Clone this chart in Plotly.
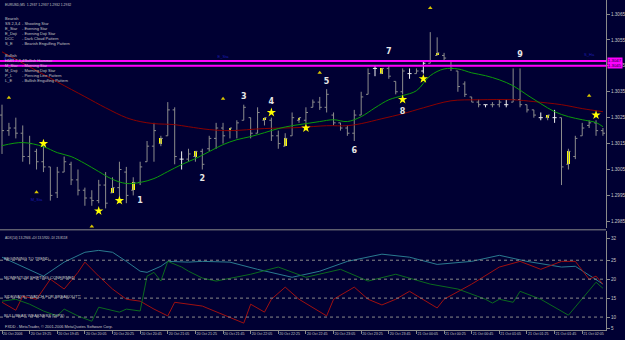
import plotly.graph_objects as go

# ---------------- data ----------------
time_labels = ["20 Oct 2006", "20 Oct 19:25", "20 Oct 19:45", "20 Oct 20:05", "20 Oct 20:25",
               "20 Oct 20:45", "20 Oct 21:05", "20 Oct 21:25", "20 Oct 21:45", "20 Oct 22:05",
               "20 Oct 22:25", "20 Oct 22:45", "20 Oct 23:05", "20 Oct 23:25", "20 Oct 23:45",
               "21 Oct 00:05", "21 Oct 00:25", "21 Oct 00:45", "21 Oct 01:05", "21 Oct 01:25",
               "21 Oct 01:45", "21 Oct 02:05"]
time_label_bars = [0, 4, 8, 12, 16, 20, 24, 28, 32, 36, 40, 44, 48, 52, 56, 60, 64, 68, 72, 76, 80, 84]

opens = [1.3026, 1.3020, 1.3021, 1.3019, 1.3010, 1.3012, 1.3008, 1.3006, 1.2996, 1.3004,
         1.3007, 1.3001, 1.2997, 1.2994, 1.2993, 1.2999, 1.2996, 1.2998, 1.3004, 1.2997,
         1.3000, 1.3008, 1.3014, 1.3015, 1.3018, 1.3028, 1.3009, 1.3009, 1.3010, 1.3012,
         1.3013, 1.3017, 1.3021, 1.3020, 1.3020, 1.3024, 1.3025, 1.3019, 1.3024, 1.3024,
         1.3018, 1.3014, 1.3018, 1.3024, 1.3024, 1.3029, 1.3031, 1.3029, 1.3026, 1.3023,
         1.3021, 1.3019, 1.3026, 1.3034, 1.3044, 1.3042, 1.3044, 1.3039, 1.3035, 1.3042,
         1.3042, 1.3043, 1.3046, 1.3049, 1.3049, 1.3047, 1.3043, 1.3038, 1.3033, 1.3031,
         1.3030, 1.3030, 1.3030, 1.3030, 1.3031, 1.3032, 1.3030, 1.3028, 1.3025, 1.3025,
         1.3025, 1.3025, 1.3007, 1.3010, 1.3018, 1.3022, 1.3023, 1.3020]
highs = [1.3030, 1.3023, 1.3025, 1.3022, 1.3018, 1.3013, 1.3014, 1.3006, 1.3006, 1.3010,
         1.3008, 1.3005, 1.2998, 1.2997, 1.3001, 1.3004, 1.3002, 1.3008, 1.3006, 1.3002,
         1.3008, 1.3016, 1.3023, 1.3018, 1.3031, 1.3029, 1.3012, 1.3013, 1.3012, 1.3013,
         1.3018, 1.3023, 1.3023, 1.3021, 1.3024, 1.3030, 1.3025, 1.3029, 1.3025, 1.3025,
         1.3020, 1.3019, 1.3027, 1.3025, 1.3029, 1.3032, 1.3033, 1.3036, 1.3027, 1.3023,
         1.3022, 1.3028, 1.3035, 1.3044, 1.3045, 1.3044, 1.3045, 1.3039, 1.3044, 1.3044,
         1.3044, 1.3047, 1.3058, 1.3056, 1.3050, 1.3047, 1.3043, 1.3039, 1.3033, 1.3032,
         1.3030, 1.3031, 1.3032, 1.3032, 1.3044, 1.3044, 1.3030, 1.3028, 1.3027, 1.3026,
         1.3028, 1.3025, 1.3013, 1.3018, 1.3023, 1.3024, 1.3024, 1.3021]
lows = [1.3011, 1.3018, 1.3017, 1.3008, 1.3007, 1.3005, 1.3004, 1.2993, 1.2994, 1.3004,
        1.2999, 1.2995, 1.2991, 1.2991, 1.2992, 1.2990, 1.2996, 1.2992, 1.2992, 1.2995,
        1.2999, 1.3008, 1.3008, 1.3014, 1.3018, 1.3007, 1.3005, 1.3008, 1.3008, 1.3005,
        1.3012, 1.3013, 1.3015, 1.3017, 1.3017, 1.3024, 1.3017, 1.3019, 1.3022, 1.3016,
        1.3013, 1.3014, 1.3018, 1.3023, 1.3023, 1.3029, 1.3028, 1.3027, 1.3022, 1.3020,
        1.3018, 1.3016, 1.3026, 1.3034, 1.3041, 1.3042, 1.3040, 1.3034, 1.3034, 1.3040,
        1.3042, 1.3042, 1.3046, 1.3049, 1.3047, 1.3043, 1.3035, 1.3033, 1.3031, 1.3029,
        1.3029, 1.3029, 1.3029, 1.3029, 1.3031, 1.3029, 1.3027, 1.3025, 1.3024, 1.3024,
        1.3023, 1.2999, 1.3005, 1.3009, 1.3018, 1.3021, 1.3018, 1.3018]
closes = [1.3020, 1.3021, 1.3019, 1.3010, 1.3015, 1.3008, 1.3006, 1.2995, 1.3004, 1.3008,
          1.3001, 1.2997, 1.2994, 1.2993, 1.2999, 1.2992, 1.2998, 1.3005, 1.2995, 1.3000,
          1.3006, 1.3014, 1.3020, 1.3017, 1.3028, 1.3010, 1.3009, 1.3011, 1.3012, 1.3007,
          1.3017, 1.3021, 1.3018, 1.3021, 1.3023, 1.3029, 1.3019, 1.3027, 1.3025, 1.3018,
          1.3015, 1.3017, 1.3025, 1.3025, 1.3027, 1.3031, 1.3029, 1.3034, 1.3023, 1.3021,
          1.3019, 1.3026, 1.3033, 1.3042, 1.3044, 1.3044, 1.3041, 1.3035, 1.3043, 1.3042,
          1.3043, 1.3046, 1.3047, 1.3050, 1.3048, 1.3044, 1.3037, 1.3034, 1.3031, 1.3030,
          1.3030, 1.3030, 1.3031, 1.3030, 1.3032, 1.3030, 1.3028, 1.3026, 1.3025, 1.3026,
          1.3025, 1.3006, 1.3012, 1.3017, 1.3021, 1.3023, 1.3020, 1.3019]

yellow_bars = [16, 19, 23, 28, 33, 38, 41, 43, 55, 63, 79, 82]
white_bars = [26, 54, 59, 61, 70, 73, 78, 80]

fast_ma_bars = [0, 3, 6, 8, 10, 12, 14, 16, 18, 20, 22, 24, 26, 28, 30, 32, 34, 36, 38, 40, 42, 44,
                46, 48, 50, 52, 54, 56, 58, 60, 62, 64, 66, 68, 70, 72, 74, 76, 78, 80, 82, 84, 86, 87]
fast_ma = [1.30142, 1.30154, 1.30138, 1.30115, 1.30100, 1.30073, 1.30042, 1.30012, 1.29996, 1.30000,
           1.30015, 1.30042, 1.30069, 1.30092, 1.30119, 1.30146, 1.30165, 1.30177, 1.30192, 1.30208,
           1.30219, 1.30227, 1.30235, 1.30242, 1.30235, 1.30254, 1.30288, 1.30319, 1.30335, 1.30354,
           1.30412, 1.30438, 1.30438, 1.30423, 1.30412, 1.30396, 1.30373, 1.30338, 1.30304, 1.30273,
           1.30254, 1.30242, 1.30231, 1.30215]
slow_ma_bars = [0, 4, 8, 12, 15, 18, 20, 22, 25, 27, 30, 33, 38, 43, 47, 50, 52, 55, 58, 61, 65,
                69, 74, 77, 81, 84, 87]
slow_ma = [1.30504, 1.30446, 1.30388, 1.30331, 1.30288, 1.30250, 1.30235, 1.30227, 1.30223, 1.30215,
           1.30204, 1.30200, 1.30208, 1.30212, 1.30219, 1.30219, 1.30227, 1.30246, 1.30265, 1.30288,
           1.30315, 1.30319, 1.30319, 1.30312, 1.30300, 1.30285, 1.30273]

level_lines = [1.30469, 1.30450]
level_texts = ["1.3047", "1.3045"]
price_ticks = [1.3065, 1.3055, 1.3045, 1.3035, 1.3025, 1.3015, 1.3005, 1.2995, 1.2985]

star_bars = [6, 14, 17, 39, 44, 58, 61, 86]
star_prices = [1.3015, 1.2989, 1.2993, 1.3027, 1.3021, 1.3032, 1.3040, 1.3026]
flag_bars = [1, 5, 13, 32, 46, 62, 85]
flag_prices = [1.30327, 1.29962, 1.2983, 1.30323, 1.30423, 1.30673, 1.30335]
wave_labels = ["1", "2", "3", "4", "5", "6", "7", "8", "9"]
wave_bars = [20, 29, 35, 39, 47, 51, 56, 58, 75]
wave_prices = [1.29927, 1.30012, 1.30331, 1.30312, 1.30388, 1.30123, 1.30504, 1.30273, 1.30492]
pattern_tags = ["B_Ha", "E_Sta", "M_Sta", "S_Ha"]
pattern_bars = [1, 32, 5, 85]
pattern_prices = [1.30476, 1.30485, 1.29932, 1.30492]

adx_bars = [0, 3, 6, 9, 12, 14, 16, 18, 20, 21, 23, 24, 27, 29, 33, 37, 42, 46, 50, 55, 59, 63,
            68, 72, 76, 81, 83, 87]
adx_vals = [25.8, 23.4, 20.8, 24.5, 27.1, 27.6, 27.1, 24.7, 22.1, 21.8, 23.4, 24.7, 24.5, 24.7,
            24.5, 22.6, 20.5, 22.1, 24.7, 26.6, 25.8, 23.9, 24.7, 26.3, 24.7, 23.2, 23.4, 18.7]
mdi_bars = [0, 2, 3, 5, 7, 9, 11, 12, 14, 16, 18, 20, 22, 24, 25, 27, 29, 35, 36, 38, 39, 41, 43,
            47, 48, 51, 53, 55, 57, 59, 61, 63, 64, 68, 72, 75, 78, 81, 83, 85, 86, 87]
mdi_vals = [13.9, 11.8, 15.5, 14.7, 20.0, 17.4, 21.8, 24.5, 20.8, 17.4, 14.7, 14.2, 12.1, 10.3,
            13.9, 13.4, 12.9, 8.4, 13.4, 11.3, 14.7, 17.9, 14.7, 10.3, 14.7, 17.9, 14.7, 13.2,
            14.7, 16.8, 14.7, 12.4, 14.7, 18.7, 23.2, 24.7, 22.6, 24.7, 24.7, 20.0, 20.8, 18.7]
pdi_bars = [0, 2, 4, 6, 8, 9, 11, 13, 14, 17, 18, 20, 21, 22, 23, 24, 26, 27, 29, 31, 36, 40, 44,
            49, 53, 57, 62, 66, 70, 71, 72, 74, 75, 78, 82, 84, 86, 87]
pdi_vals = [14.2, 14.7, 13.4, 11.6, 10.3, 12.1, 10.3, 8.9, 12.6, 11.3, 12.1, 11.6, 20.8, 21.8,
            19.5, 24.7, 23.2, 22.1, 20.3, 19.5, 21.3, 23.2, 20.5, 22.6, 19.5, 21.3, 18.7, 17.4,
            14.7, 13.7, 14.7, 13.9, 16.8, 14.7, 10.5, 14.7, 19.2, 17.6]
adx_levels = [25, 20, 15, 10]
adx_level_names = ["BEGINNING TO TREND", "MOMENTUM SHIFTING CONFIRMED",
                   "SIDEWAYS **WATCH FOR BREAKOUT**", "BULL/BEAR WEAKNESS (DIPS)"]
adx_tick_vals = [30.8, 25, 20, 15, 10, 6.9]
adx_tick_text = ["32", "25", "20", "15", "10", "5"]

legend_rows = [("Bearish", ""), ("SS 2,3,4", "- Shooting Star"), ("E_Star", "- Evening Star"),
               ("E_Doji", "- Evening Doji Star"), ("DCC", "- Dark Cloud Pattern"),
               ("S_E", "- Bearish Engulfing Pattern"), ("Bullish", ""),
               ("HMR 2,3,4", "- Bullish Hammer"), ("M_Star", "- Morning Star"),
               ("M_Doji", "- Morning Doji Star"), ("P_L", "- Piercing Line Pattern"),
               ("L_E", "- Bullish Engulfing Pattern")]
legend_y_px = [19, 24, 29, 34, 39, 44, 56, 61, 66, 71, 76, 81]

header_text = "EURUSD,M5  1.2937 1.2937 1.2932 1.2932"
adx_title = "ADX(14) 13.2946 +DI 13.5920 -DI 23.8118"
footer_text = "FXDD - MetaTrader, \u00a9 2001-2006 MetaQuotes Software Corp."

# ---------------- styling ----------------
W, H = 625, 340
BG = "#000033"
AXC = "#8a8a8a"
TXT = "#c8c8c8"
FONT = "Liberation Sans"
XR = 608 / W
main_dom = [1 - 229 / H, 1]
adx_dom = [9 / H, 1 - 232 / H]
x_range = [-0.29, 87.45]
SMALL = 4.0

fig = go.Figure()

grey = [i for i in range(len(opens)) if i not in white_bars]
fig.add_trace(go.Ohlc(
    x=grey, open=[opens[i] for i in grey], high=[highs[i] for i in grey],
    low=[lows[i] for i in grey], close=[closes[i] for i in grey],
    increasing=dict(line=dict(color="#8c8c8c", width=1)),
    decreasing=dict(line=dict(color="#8c8c8c", width=1)),
    tickwidth=0.3, xaxis="x", yaxis="y", hoverinfo="skip"))
fig.add_trace(go.Ohlc(
    x=white_bars, open=[opens[i] for i in white_bars], high=[highs[i] for i in white_bars],
    low=[lows[i] for i in white_bars], close=[closes[i] for i in white_bars],
    increasing=dict(line=dict(color="#f0f0f0", width=1)),
    decreasing=dict(line=dict(color="#f0f0f0", width=1)),
    tickwidth=0.3, xaxis="x", yaxis="y", hoverinfo="skip"))
fig.add_trace(go.Bar(
    x=yellow_bars, base=[min(opens[i], closes[i]) for i in yellow_bars],
    y=[abs(closes[i] - opens[i]) for i in yellow_bars], width=0.42,
    marker=dict(color="#ffff00", line=dict(width=0)), xaxis="x", yaxis="y"))

fig.add_trace(go.Scatter(x=slow_ma_bars, y=slow_ma, mode="lines",
                         line=dict(color="#8b0000", width=1, shape="spline"), xaxis="x", yaxis="y"))
fig.add_trace(go.Scatter(x=fast_ma_bars, y=fast_ma, mode="lines",
                         line=dict(color="#0c9a0c", width=1, shape="spline"), xaxis="x", yaxis="y"))

fig.add_trace(go.Scatter(x=star_bars, y=star_prices, mode="markers",
                         marker=dict(symbol="star", size=7, color="#ffff00", line=dict(width=0)),
                         xaxis="x", yaxis="y"))
fig.add_trace(go.Scatter(x=flag_bars, y=flag_prices, mode="markers",
                         marker=dict(symbol="triangle-up", size=4, color="#d8c400", line=dict(width=0)),
                         xaxis="x", yaxis="y"))
fig.add_trace(go.Scatter(x=wave_bars, y=wave_prices, mode="text", text=wave_labels,
                         textfont=dict(size=8, color="#e6e6e6", family="DejaVu Sans", weight="bold"),
                         xaxis="x", yaxis="y"))
fig.add_trace(go.Scatter(x=pattern_bars, y=pattern_prices, mode="text", text=pattern_tags,
                         textfont=dict(size=4, color="#1c1cb4", family=FONT),
                         xaxis="x", yaxis="y"))

# ADX panel
fig.add_trace(go.Scatter(x=adx_bars, y=adx_vals, mode="lines",
                         line=dict(color="#2a7b90", width=1), xaxis="x2", yaxis="y2"))
fig.add_trace(go.Scatter(x=mdi_bars, y=mdi_vals, mode="lines",
                         line=dict(color="#a01010", width=1), xaxis="x2", yaxis="y2"))
fig.add_trace(go.Scatter(x=pdi_bars, y=pdi_vals, mode="lines",
                         line=dict(color="#0b6a1e", width=1), xaxis="x2", yaxis="y2"))

shapes = []
for lv in level_lines:
    shapes.append(dict(type="line", xref="x domain", yref="y", x0=0, x1=1, y0=lv, y1=lv,
                       line=dict(color="#ff00ff", width=2)))
for lv in adx_levels:
    shapes.append(dict(type="line", xref="x2 domain", yref="y2", x0=0, x1=1, y0=lv, y1=lv,
                       line=dict(color="#8a8a8a", width=1, dash="dot")))
shapes.append(dict(type="line", xref="paper", yref="paper", x0=0, x1=XR,
                   y0=1 - 230.5 / H, y1=1 - 230.5 / H, line=dict(color=AXC, width=1)))

annotations = []
for lv, tx in zip(level_lines, level_texts):
    annotations.append(dict(xref="paper", yref="y", x=XR + 1 / W, y=lv, xanchor="left", yanchor="middle",
                            text=tx, showarrow=False, bgcolor="#ff00ff", borderpad=0,
                            font=dict(size=4.3, color="#000033", family=FONT)))
annotations.append(dict(xref="paper", yref="paper", x=3 / W, y=1 - 5 / H, xanchor="left",
                        yanchor="middle", text=header_text, showarrow=False,
                        font=dict(size=3.4, color=TXT, family=FONT)))
for (code, desc), ypx in zip(legend_rows, legend_y_px):
    annotations.append(dict(xref="paper", yref="paper", x=3 / W, y=1 - ypx / H, xanchor="left",
                            yanchor="middle", text=code, showarrow=False,
                            font=dict(size=SMALL, color=TXT, family=FONT)))
    if desc:
        annotations.append(dict(xref="paper", yref="paper", x=20 / W, y=1 - ypx / H, xanchor="left",
                                yanchor="middle", text=desc, showarrow=False,
                                font=dict(size=SMALL, color=TXT, family=FONT)))
annotations.append(dict(xref="paper", yref="paper", x=3 / W, y=1 - 239 / H, xanchor="left",
                        yanchor="middle", text=adx_title, showarrow=False,
                        font=dict(size=3.3, color=TXT, family=FONT)))
for lv, name in zip(adx_levels, adx_level_names):
    annotations.append(dict(xref="paper", yref="y2", x=2 / W, y=lv, xanchor="left",
                            yanchor="bottom", yshift=-3, text=name, showarrow=False,
                            font=dict(size=4.1, color=TXT, family=FONT)))
annotations.append(dict(xref="paper", yref="paper", x=3 / W, y=1 - 327.5 / H, xanchor="left",
                        yanchor="middle", text=footer_text, showarrow=False,
                        font=dict(size=3.9, color=TXT, family=FONT)))

fig.update_layout(
    width=W, height=H, margin=dict(l=0, r=0, t=0, b=0),
    paper_bgcolor=BG, plot_bgcolor=BG, showlegend=False, bargap=0,
    shapes=shapes, annotations=annotations,
    xaxis=dict(domain=[0, XR], range=x_range, anchor="y", showticklabels=False, showgrid=False,
               zeroline=False, showline=False, ticks="", rangeslider=dict(visible=False)),
    yaxis=dict(domain=main_dom, range=[1.29823, 1.30704], anchor="x", side="right",
               showgrid=False, zeroline=False, showline=True, linecolor=AXC, linewidth=1,
               ticks="outside", ticklen=3, tickcolor=AXC, tickvals=price_ticks,
               ticktext=[f"{v:.4f}" for v in price_ticks],
               tickfont=dict(size=4.6, color=TXT, family=FONT)),
    xaxis2=dict(domain=[0, XR], range=x_range, anchor="y2", showgrid=False, zeroline=False,
                showline=True, linecolor=AXC, linewidth=1, ticks="outside", ticklen=3,
                tickcolor=AXC, tickvals=time_label_bars, ticktext=time_labels,
                ticklabelposition="outside right", tickangle=0,
                tickfont=dict(size=3.6, color=TXT, family=FONT), rangeslider=dict(visible=False)),
    yaxis2=dict(domain=adx_dom, range=[6.58, 32.63], anchor="x2", side="right",
                showgrid=False, zeroline=False, showline=True, linecolor=AXC, linewidth=1,
                ticks="outside", ticklen=3, tickcolor=AXC, tickvals=adx_tick_vals,
                ticktext=adx_tick_text, tickfont=dict(size=4.6, color=TXT, family=FONT)),
)

fig.write_html("out.html")
